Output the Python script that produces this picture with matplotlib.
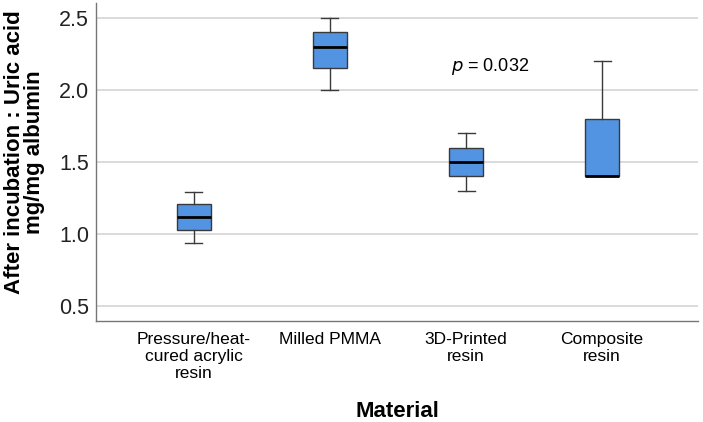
import matplotlib.pyplot as plt

plt.rcParams['font.family'] = ['Liberation Sans', 'DejaVu Sans']

# Box statistics
materials = ['Pressure/heat-\ncured acrylic\nresin', 'Milled PMMA', '3D-Printed\nresin', 'Composite\nresin']
whis_low = [0.94, 2.00, 1.30, 1.40]
q1 = [1.03, 2.15, 1.40, 1.40]
median = [1.12, 2.30, 1.50, 1.40]
q3 = [1.21, 2.40, 1.60, 1.80]
whis_high = [1.29, 2.50, 1.70, 2.20]

stats = []
for i in range(len(materials)):
    stats.append({'whislo': whis_low[i], 'q1': q1[i], 'med': median[i],
                  'q3': q3[i], 'whishi': whis_high[i], 'fliers': []})

fig = plt.figure(figsize=(7.03, 4.22), dpi=100)
ax = fig.add_axes([0.1366, 0.2393, 0.8564, 0.7537])

ax.bxp(stats, positions=range(len(materials)), widths=0.25, capwidths=0.125,
       patch_artist=True, showfliers=False,
       boxprops=dict(facecolor='#5294e2', edgecolor='#3a3a3a', linewidth=1.0),
       medianprops=dict(color='black', linewidth=2.0),
       whiskerprops=dict(color='#3a3a3a', linewidth=1.0),
       capprops=dict(color='#3a3a3a', linewidth=1.0))

ax.set_xlim(-0.72, 3.706)
ax.set_ylim(0.396, 2.604)
ax.set_yticks([0.5, 1.0, 1.5, 2.0, 2.5])
ax.set_yticklabels(['0.5', '1.0', '1.5', '2.0', '2.5'], fontsize=15.5, color='#222222')
ax.set_xticks(range(len(materials)))
ax.set_xticklabels(materials, fontsize=12.5, linespacing=1.15)
ax.tick_params(axis='both', length=0)
ax.tick_params(axis='x', pad=8)
ax.tick_params(axis='y', pad=5)

ax.yaxis.grid(True, color='#d4d4d4', linewidth=1.2)
ax.set_axisbelow(True)
for s in ['top', 'right']:
    ax.spines[s].set_visible(False)
for s in ['left', 'bottom']:
    ax.spines[s].set_color('#777777')
    ax.spines[s].set_linewidth(1.0)

ax.set_ylabel('After incubation : Uric acid\nmg/mg albumin', fontsize=16,
              fontweight='bold', linespacing=0.95)
ax.yaxis.set_label_coords(-0.084, 0.53)
ax.set_xlabel('Material', fontsize=16, fontweight='bold', va='top')
ax.xaxis.set_label_coords(0.5, -0.251)

ax.text(2.18, 2.16, r'$\it{p}$ = 0.032', fontsize=13, ha='center', va='center')

plt.savefig('out.png', dpi=100)
